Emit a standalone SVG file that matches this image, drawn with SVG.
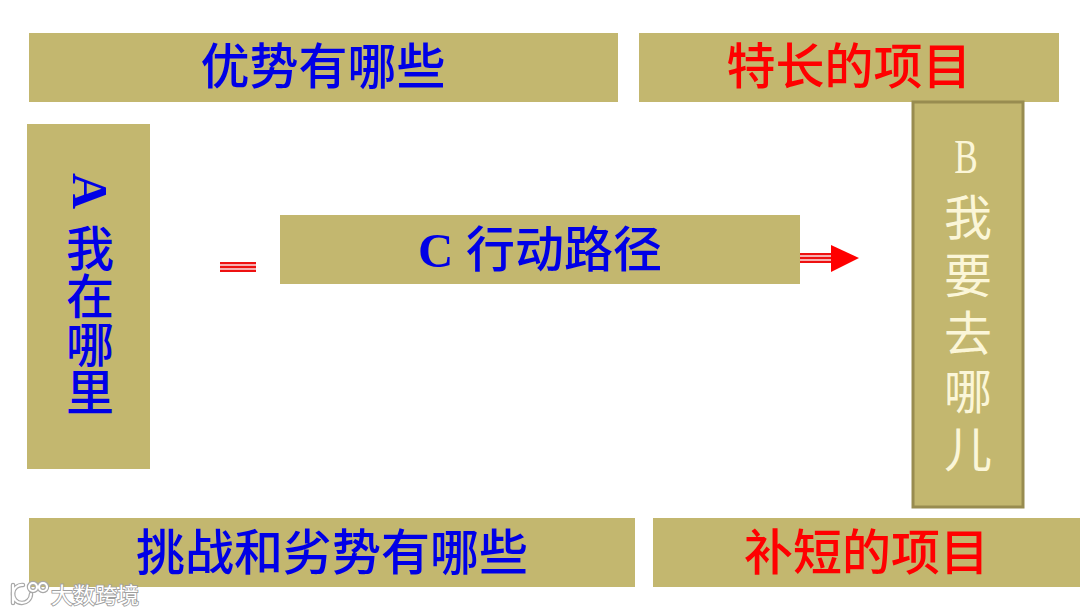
<svg xmlns="http://www.w3.org/2000/svg" width="1080" height="614" viewBox="0 0 1080 614">
<defs><filter id="soft" x="-10%" y="-30%" width="120%" height="160%"><feGaussianBlur stdDeviation="0.7"/></filter></defs>
<style>
.box{fill:#c3b76f}
.t{font-family:"Noto Sans CJK SC","Noto Sans CJK JP",sans-serif;font-size:49px;text-anchor:middle;font-weight:500}
.col{font-size:48px;text-anchor:start;writing-mode:vertical-rl}
.blue{fill:#0000e6}
.red{fill:#ff0000}
.cream{fill:#fbf6d8;font-weight:400;letter-spacing:10px}
.lat{font-family:"Liberation Serif",serif;font-weight:700}
.band{fill:#f6b0b0}
.ln{stroke:#ee1111;stroke-width:2;fill:none}
.wm{fill:none;stroke-linecap:round}
</style>
<rect width="1080" height="614" fill="#fff"/>
<g id="node-advantages"><rect class="box" x="29" y="33" width="589" height="69"/><text class="t blue" x="323" y="84">优势有哪些</text></g>
<g id="node-specialty"><rect class="box" x="639" y="33" width="420" height="69"/><text class="t red" x="849" y="84">特长的项目</text></g>
<g id="node-a"><rect class="box" x="27" y="124" width="123" height="345"/>
<text class="lat blue" font-size="50" text-anchor="middle" transform="translate(72.500,191) rotate(90)">A</text>
<text class="t col blue" x="90" y="224">我在哪里</text></g>
<g id="node-c"><rect class="box" x="280" y="215" width="520" height="69"/><text class="lat blue" font-size="49" x="418" y="267">C</text><text class="t blue" x="564" y="267">行动路径</text></g>
<g id="node-b"><rect x="913" y="102" width="110" height="405" fill="#c3b76f" stroke="#988c50" stroke-width="3"/>
<text font-family="Liberation Serif,serif" font-size="49" text-anchor="middle" fill="#fbf6d8" transform="translate(966,173) scale(0.72,1)">B</text>
<text class="t col cream" x="968" y="193">我要去哪儿</text></g>
<g id="node-challenges"><rect class="box" x="29" y="518" width="606" height="69"/><text class="t blue" x="332" y="570">挑战和劣势有哪些</text></g>
<g id="node-shortfall"><rect class="box" x="653" y="518" width="427" height="69"/><text class="t red" x="866.500" y="570">补短的项目</text></g>
<g id="connectors">
<rect class="band" x="220" y="262" width="36" height="10"/>
<path class="ln" d="M220 263H256M220 267H256M220 271H256"/>
<rect class="band" x="800" y="253" width="32" height="10"/>
<path class="ln" d="M800 254H832M800 258H832M800 262H832"/>
<polygon points="831,245 859,258 831,272" fill="#ff0000"/>
</g>
<g id="watermark">
<g filter="url(#soft)"><g class="wm" stroke="#a8a8a8" stroke-width="4.500"><path d="M13 585V603"/><path d="M31 594A9 9 0 1 1 23 585"/><circle cx="33" cy="587" r="4"/><circle cx="43" cy="587" r="4"/></g></g>
<g class="wm" stroke="#fff" stroke-width="2.200"><path d="M13 585V603"/><path d="M31 594A9 9 0 1 1 23 585"/><circle cx="33" cy="587" r="4"/><circle cx="43" cy="587" r="4"/></g>
<text x="51" y="603" font-family="Noto Sans CJK SC,sans-serif" font-size="22" fill="#fff" stroke="#a0a0a0" stroke-width="1.800" paint-order="stroke">大数跨境</text>
</g>
</svg>
